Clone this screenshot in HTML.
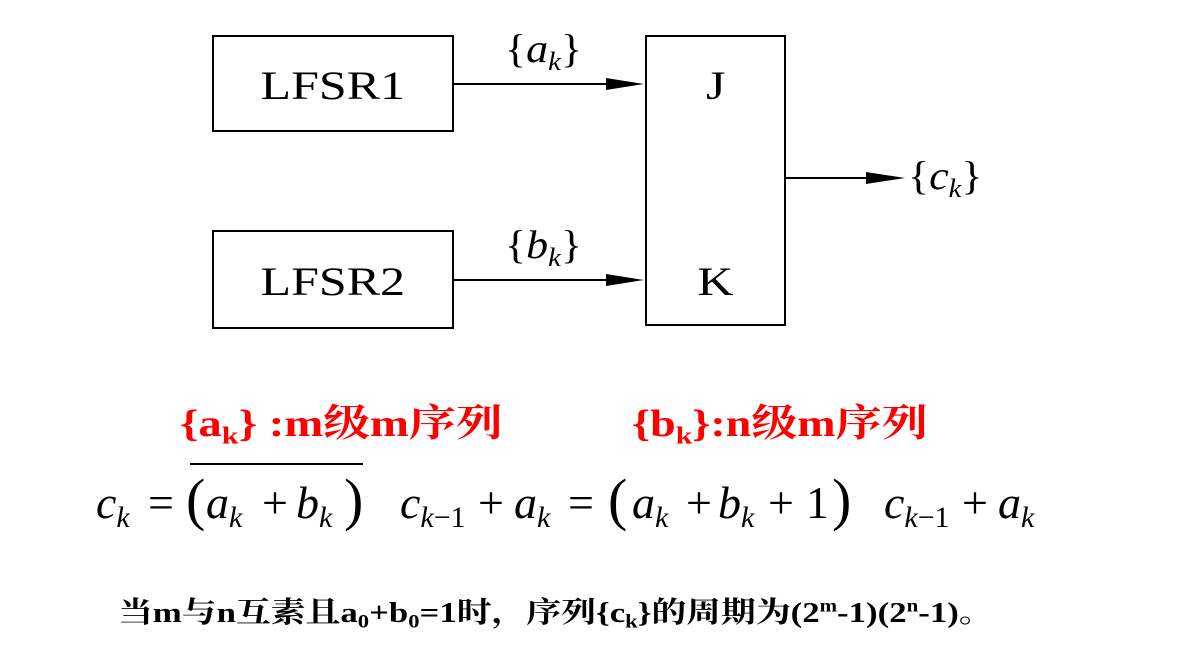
<!DOCTYPE html>
<html><head><meta charset="utf-8"><style>
body{margin:0;width:1181px;height:656px;background:#fff;position:relative;overflow:hidden;font-family:"Liberation Serif","Noto Serif CJK SC",serif}
.a{position:absolute;white-space:nowrap}
.box{position:absolute;border:2px solid #000;box-sizing:border-box}
.lbl{font-size:40px;text-align:center}
.lbl span{display:inline-block;transform:scaleX(1.25)}
i{font-style:italic}
sub{font-size:0.65em;vertical-align:-0.3em}
.f{position:absolute;font-size:46px;top:476px;white-space:nowrap}
.p{position:absolute;font-size:58px;top:466px}
</style></head><body>
<div class="box" style="left:212px;top:35px;width:242px;height:97px"></div>
<div class="a lbl" style="left:212px;top:62px;width:242px"><span>LFSR1</span></div>
<div class="box" style="left:212px;top:230px;width:242px;height:99px"></div>
<div class="a lbl" style="left:212px;top:258px;width:242px"><span>LFSR2</span></div>
<div class="box" style="left:645px;top:35px;width:141px;height:291px"></div>
<div class="a lbl" style="left:645px;top:62px;width:141px"><span>J</span></div>
<div class="a lbl" style="left:645px;top:258px;width:141px"><span>K</span></div>
<svg class="a" style="left:0;top:0" width="1181" height="656">
<g stroke="#000" stroke-width="2"><line x1="454" y1="84" x2="610" y2="84"/><line x1="454" y1="280" x2="610" y2="280"/><line x1="786" y1="178" x2="870" y2="178"/></g>
<polygon points="644,84 606,78 606,90"/><polygon points="644,280 606,274 606,286"/><polygon points="905,178 866,172 866,184"/>
</svg>
<div class="a" style="left:505px;top:25px;font-size:40px;transform:scaleX(1.1);transform-origin:left">{<i>a<sub>k</sub></i>}</div>
<div class="a" style="left:505px;top:221px;font-size:40px;transform:scaleX(1.1);transform-origin:left">{<i>b<sub>k</sub></i>}</div>
<div class="a" style="left:908px;top:152px;font-size:40px;transform:scaleX(1.1);transform-origin:left">{<i>c<sub>k</sub></i>}</div>
<div class="a" style="left:180px;top:392px;font-size:38px;font-weight:bold;color:#f00;transform:scaleX(1.23);transform-origin:left">{a<sub>k</sub>} :m级m序列</div>
<div class="a" style="left:632px;top:392px;font-size:38px;font-weight:bold;color:#f00;transform:scaleX(1.21);transform-origin:left">{b<sub>k</sub>}:n级m序列</div>
<div class="a" style="left:190px;top:463px;width:173px;height:2px;background:#000"></div>
<div class="f" style="left:96px"><i>c<sub>k</sub></i></div>
<div class="f" style="left:148px">=</div>
<div class="p" style="left:186px">(</div>
<div class="f" style="left:206px"><i>a<sub>k</sub></i></div>
<div class="f" style="left:262px">+</div>
<div class="f" style="left:296px"><i>b<sub>k</sub></i></div>
<div class="p" style="left:344px">)</div>
<div class="f" style="left:400px"><i>c<sub>k</sub></i><sub>−1</sub></div>
<div class="f" style="left:478px">+</div>
<div class="f" style="left:514px"><i>a<sub>k</sub></i></div>
<div class="f" style="left:568px">=</div>
<div class="p" style="left:608px">(</div>
<div class="f" style="left:632px"><i>a<sub>k</sub></i></div>
<div class="f" style="left:686px">+</div>
<div class="f" style="left:718px"><i>b<sub>k</sub></i></div>
<div class="f" style="left:768px">+</div>
<div class="f" style="left:806px">1</div>
<div class="p" style="left:832px">)</div>
<div class="f" style="left:884px"><i>c<sub>k</sub></i><sub>−1</sub></div>
<div class="f" style="left:962px">+</div>
<div class="f" style="left:998px"><i>a<sub>k</sub></i></div>
<div class="a" style="left:118px;top:590px;font-size:29px;font-weight:bold;transform:scaleX(1.2);transform-origin:left">当m与n互素且a<sub>0</sub>+b<sub>0</sub>=1时，序列{c<sub>k</sub>}的周期为(2<sup style="font-size:0.6em">m</sup>-1)(2<sup style="font-size:0.6em">n</sup>-1)。</div>
</body></html>
